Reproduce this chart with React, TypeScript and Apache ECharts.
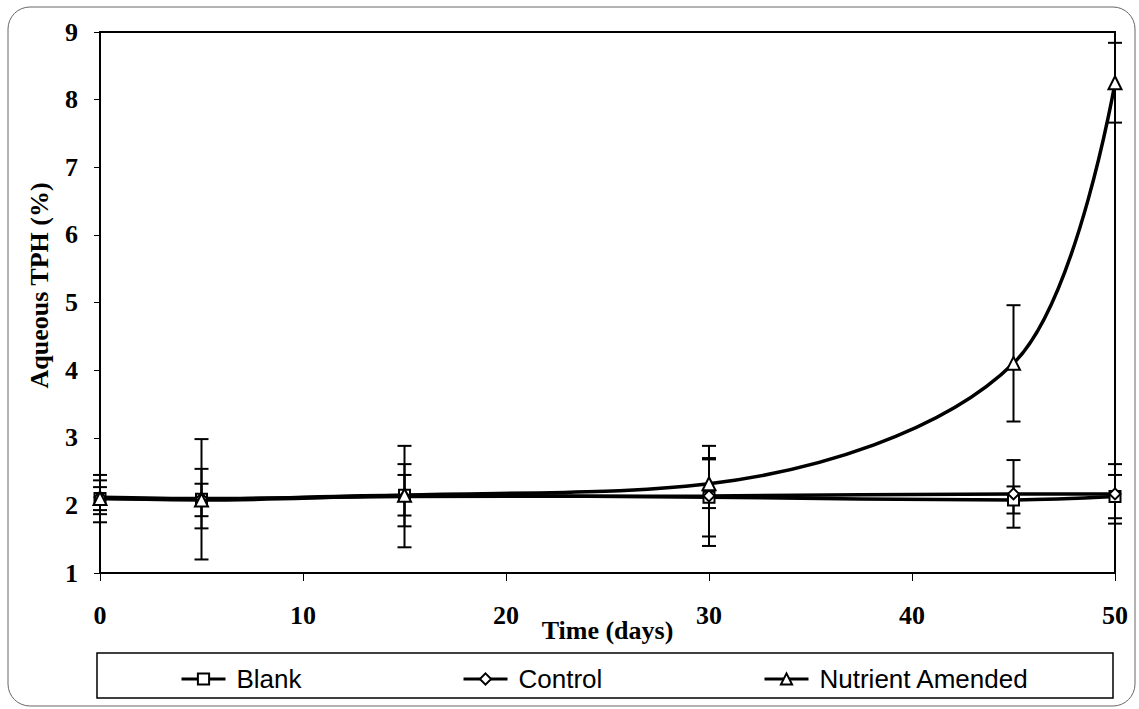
import React, { useEffect, useRef } from "react";
import * as echarts from "echarts";

const days = [0, 5, 15, 30, 45, 50];
const blank = [2.1, 2.09, 2.15, 2.12, 2.08, 2.13];
const control = [2.12, 2.1, 2.13, 2.14, 2.17, 2.17];
const nutrient = [2.1, 2.08, 2.15, 2.32, 4.1, 8.25];
const blankErr = [0.35, 0.89, 0.46, 0.58, 0.2, 0.32];
const controlErr = [0.25, 0.44, 0.75, 0.74, 0.5, 0.44];
const nutrientErr = [0.17, 0.24, 0.3, 0.36, 0.86, 0.59];
const seriesNames = ["Blank", "Control", "Nutrient Amended"];
const xTicks = [0, 10, 20, 30, 40, 50];
const yTicks = [1, 2, 3, 4, 5, 6, 7, 8, 9];

const SERIF = "'Liberation Serif', 'Times New Roman', serif";
const SANS = "'Liberation Sans', Arial, sans-serif";

function errData(vals: number[], errs: number[]) {
  return days.map((d, i) => [d, vals[i] - errs[i], vals[i] + errs[i]]);
}

function errSeries(name: string, vals: number[], errs: number[]) {
  return {
    type: "custom",
    name: name + " error",
    data: errData(vals, errs),
    z: 2,
    silent: true,
    encode: { x: 0, y: [1, 2] },
    renderItem: (params: any, api: any) => {
      const x = api.value(0);
      const lo = api.value(1);
      const hi = api.value(2);
      const pHi = api.coord([x, hi]);
      const pLo = api.coord([x, lo]);
      const w = 7;
      const st = { stroke: "#000", lineWidth: 2 };
      return {
        type: "group",
        children: [
          { type: "line", shape: { x1: pHi[0], y1: pHi[1], x2: pLo[0], y2: pLo[1] }, style: st },
          { type: "line", shape: { x1: pHi[0] - w, y1: pHi[1], x2: pHi[0] + w, y2: pHi[1] }, style: st },
          { type: "line", shape: { x1: pLo[0] - w, y1: pLo[1], x2: pLo[0] + w, y2: pLo[1] }, style: st },
        ],
      };
    },
  };
}

function lineSeries(name: string, vals: number[], symbol: string) {
  return {
    type: "line",
    name,
    data: days.map((d, i) => [d, vals[i]]),
    smooth: 0.33,
    symbol,
    symbolSize: symbol === "triangle" ? 13 : 11,
    showAllSymbol: true,
    z: 3,
    lineStyle: { color: "#000", width: 3.5 },
    itemStyle: { color: "#fff", borderColor: "#000", borderWidth: 2 },
    emphasis: { disabled: true },
  };
}

function legendAt(name: string, left: number) {
  return {
    data: [name],
    left,
    top: 661,
    itemWidth: 44,
    itemHeight: 14,
    selectedMode: false,
    lineStyle: { width: 3 },
    textStyle: { fontFamily: SANS, fontSize: 26, color: "#000", padding: [0, 0, 0, 6] },
  };
}

export default function App() {
  const ref = useRef<HTMLDivElement>(null);
  useEffect(() => {
    if (!ref.current) return;
    const chart = echarts.init(ref.current, undefined, { renderer: "svg" });
    chart.setOption({
      animation: false,
      backgroundColor: "#fff",
      grid: {
        left: 100,
        right: 24,
        top: 32,
        bottom: 136,
        show: true,
        borderColor: "#000",
        borderWidth: 2,
      },
      xAxis: {
        type: "value",
        min: xTicks[0],
        max: xTicks[xTicks.length - 1],
        interval: 10,
        name: "Time (days)",
        nameLocation: "middle",
        nameGap: 44,
        nameMoveOverlap: false,
        nameTextStyle: { fontFamily: SERIF, fontWeight: "bold", fontSize: 26, color: "#000" },
        axisLine: { lineStyle: { color: "#000", width: 2 } },
        axisTick: { show: true, length: 8, lineStyle: { color: "#000", width: 1 } },
        axisLabel: { fontFamily: SERIF, fontWeight: "bold", fontSize: 26, color: "#000", margin: 29 },
        splitLine: { show: false },
      },
      yAxis: {
        type: "value",
        min: yTicks[0],
        max: yTicks[yTicks.length - 1],
        interval: 1,
        name: "Aqueous TPH (%)",
        nameLocation: "middle",
        nameGap: 48,
        nameMoveOverlap: false,
        nameTextStyle: {
          fontFamily: SERIF,
          fontWeight: "bold",
          fontSize: 26,
          color: "#000",
          padding: [0, 0, 0, 34],
        },
        axisLine: { lineStyle: { color: "#000", width: 2 } },
        axisTick: { show: true, length: 6, lineStyle: { color: "#000", width: 1 } },
        axisLabel: { fontFamily: SERIF, fontWeight: "bold", fontSize: 26, color: "#000", margin: 22 },
        splitLine: { show: false },
      },
      legend: [legendAt(seriesNames[0], 175), legendAt(seriesNames[1], 457), legendAt(seriesNames[2], 758)],
      graphic: [
        {
          type: "rect",
          shape: { x: 8, y: 7, width: 1127, height: 699, r: 22 },
          style: { fill: "none", stroke: "#666", lineWidth: 1 },
          z: -10,
          silent: true,
        },
        {
          type: "rect",
          shape: { x: 97, y: 653, width: 1016, height: 45 },
          style: { fill: "none", stroke: "#000", lineWidth: 1.5 },
          silent: true,
        },
      ],
      series: [
        errSeries(seriesNames[0], blank, blankErr),
        errSeries(seriesNames[1], control, controlErr),
        errSeries(seriesNames[2], nutrient, nutrientErr),
        lineSeries(seriesNames[0], blank, "rect"),
        lineSeries(seriesNames[1], control, "diamond"),
        lineSeries(seriesNames[2], nutrient, "triangle"),
      ],
    });
    return () => chart.dispose();
  }, []);
  return (
    <div
      ref={ref}
      style={{ position: "fixed", left: 0, top: 0, width: 1139, height: 709, background: "#fff" }}
    />
  );
}
